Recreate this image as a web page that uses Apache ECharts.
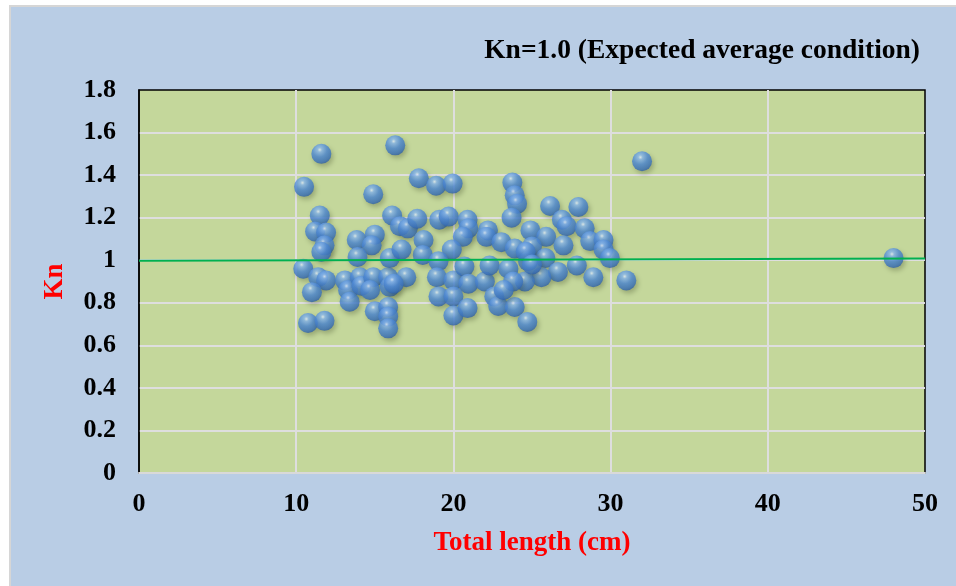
<!DOCTYPE html>
<html>
<head>
<meta charset="utf-8">
<script src="https://cdn.jsdelivr.net/npm/echarts@6/dist/echarts.min.js"></script>
<style>
html,body{margin:0;padding:0;background:#ffffff;width:956px;height:586px;overflow:hidden;}
#frame{position:absolute;left:9px;top:5px;width:947px;height:581px;background:#b9cde5;border-left:2px solid #d6d6d6;border-top:2px solid #d6d6d6;box-sizing:border-box;}
#chart{position:absolute;left:0;top:0;width:956px;height:586px;}
</style>
</head>
<body>
<div id="frame"></div>
<div id="chart"></div>
<script>
// Total length (cm)
const lengths = [
 11.6,10.5,14.9,11.5,16.3,16.1,11.2,11.9,11.8,11.6,13.85,15.0,14.8,13.9,10.45,11.4,11.9,11.0,13.1,13.3,
 13.4,14.05,14.15,14.9,14.7,15.0,15.85,15.95,15.85,15.85,15.85,10.75,11.8,15.95,
 17.8,18.9,19.95,16.6,17.1,17.7,19.1,19.7,20.9,20.95,20.6,22.2,22.1,18.1,18.05,16.7,19.9,19.05,18.95,20.0,
 20.7,20.95,22.0,22.3,17.0,16.2,19.05,20.0,20.0,20.9,22.6,22.85,
 23.75,23.9,24.05,23.7,26.15,27.95,26.9,27.2,28.35,28.7,29.55,29.55,29.95,24.9,25.9,27.0,23.05,23.9,25.0,
 25.85,27.85,26.65,25.6,24.75,23.5,24.55,23.8,28.9,23.9,24.7,23.2,24.6,25.0,
 31.0,32.0,48.0
];
// Kn
const knValues = [
 1.50,1.345,1.31,1.21,1.54,1.21,1.135,1.13,1.07,1.04,1.095,1.12,1.07,1.015,0.96,0.92,0.905,0.85,0.905,0.86,
 0.805,0.92,0.88,0.92,0.86,0.76,0.92,0.875,0.78,0.735,0.68,0.705,0.715,1.01,
 1.385,1.35,1.36,1.16,1.15,1.195,1.19,1.205,1.19,1.15,1.11,1.14,1.11,1.095,1.025,1.05,1.05,0.995,0.92,0.905,
 0.97,0.89,0.90,0.975,0.92,0.89,0.83,0.83,0.74,0.775,0.83,0.785,
 1.365,1.305,1.265,1.20,1.255,1.25,1.19,1.16,1.15,1.09,1.095,1.05,1.01,1.14,1.11,1.07,1.085,1.055,1.065,
 1.01,0.975,0.945,0.92,0.995,0.96,0.90,0.90,0.92,0.78,0.71,0.86,1.04,0.98,
 0.905,1.465,1.01
];
// trend line (Kn = 1 reference)
const trendX = [0, 50];
const trendY = [0.997, 1.008];

const points = lengths.map((x, i) => [x, knValues[i]]);
const trend = trendX.map((x, i) => [x, trendY[i]]);

const chart = echarts.init(document.getElementById('chart'), null, {renderer: 'canvas'});
const serif = '"Times New Roman","Liberation Serif",serif';
chart.setOption({
  backgroundColor: 'transparent',
  animation: false,
  title: {
    text: 'Kn=1.0 (Expected average condition)',
    right: 31, top: 32,
    textStyle: {fontFamily: serif, fontWeight: 'bold', fontSize: 27.5, color: '#000'}
  },
  grid: {
    left: 139, right: 31, top: 90, bottom: 113,
    show: true, backgroundColor: '#c4d79b', borderColor: '#000', borderWidth: 1.5
  },
  xAxis: {
    type: 'value', min: 0, max: 50, interval: 10,
    name: 'Total length (cm)', nameLocation: 'middle', nameGap: 57,
    nameTextStyle: {fontFamily: serif, fontWeight: 'bold', fontSize: 27, color: '#ff0000'},
    axisLine: {show: true, lineStyle: {color: '#d9d9d9', width: 2}},
    axisTick: {show: false},
    axisLabel: {margin: 18, fontFamily: serif, fontWeight: 'bold', fontSize: 26, color: '#000'},
    splitLine: {show: true, showMinLine: false, showMaxLine: false, lineStyle: {color: '#dedede', width: 2}}
  },
  yAxis: {
    type: 'value', min: 0, max: 1.8, interval: 0.2,
    name: 'Kn', nameLocation: 'middle', nameGap: 70, nameRotate: 90,
    nameTextStyle: {fontFamily: serif, fontWeight: 'bold', fontSize: 27, color: '#ff0000'},
    axisLine: {show: true, lineStyle: {color: '#000', width: 1.5}},
    axisTick: {show: false},
    axisLabel: {margin: 23, fontFamily: serif, fontWeight: 'bold', fontSize: 26, color: '#000',
      formatter: v => String(Math.round(v * 10) / 10)},
    splitLine: {show: true, showMinLine: false, showMaxLine: false, lineStyle: {color: '#dedede', width: 2}}
  },
  series: [
    {
      type: 'scatter',
      data: points,
      symbolSize: 20,
      z: 2,
      itemStyle: {
        color: {
          type: 'radial', x: 0.42, y: 0.3, r: 0.75,
          colorStops: [
            {offset: 0, color: '#e6f1fd'},
            {offset: 0.15, color: '#8ab9f0'},
            {offset: 0.48, color: '#4f8ad6'},
            {offset: 0.8, color: '#3a72bd'},
            {offset: 1, color: '#2a589c'}
          ]
        },
        shadowBlur: 5, shadowColor: 'rgba(40,50,20,0.35)', shadowOffsetX: 2, shadowOffsetY: 3
      }
    },
    {
      type: 'line',
      data: trend,
      symbol: 'none',
      z: 5,
      lineStyle: {color: '#00b050', width: 2}
    }
  ]
});
</script>
</body>
</html>
